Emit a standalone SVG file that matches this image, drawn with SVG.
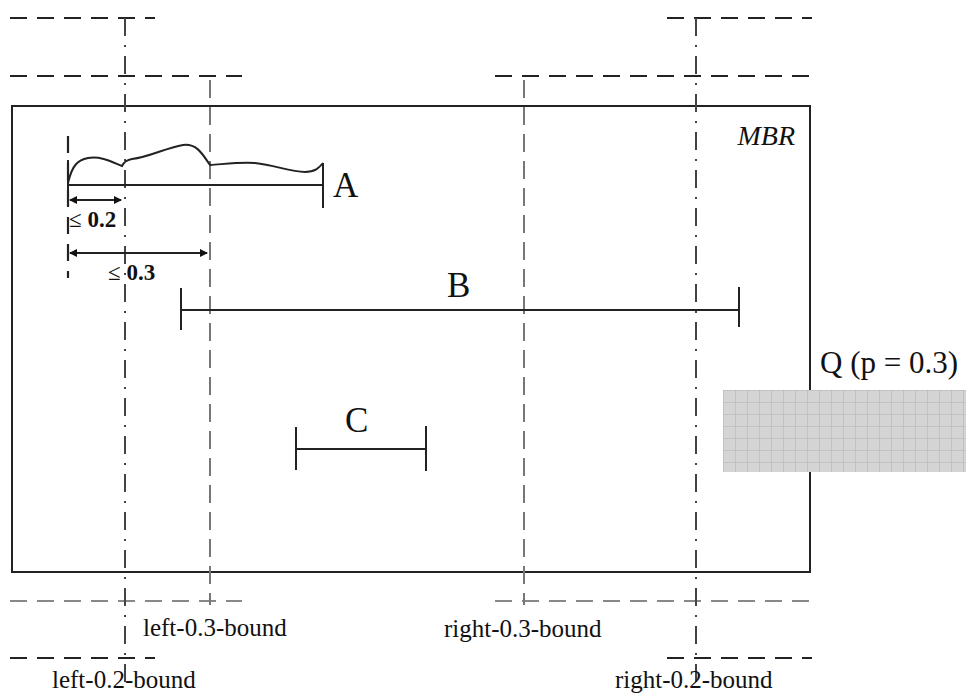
<svg xmlns="http://www.w3.org/2000/svg" width="966" height="695" viewBox="0 0 966 695">
<style>
.ser{font-family:"Liberation Serif","DejaVu Serif",serif;fill:#111}
.dash{stroke:#222;stroke-width:2.2;stroke-dasharray:17 10;fill:none}
.dashg{stroke:#888;stroke-width:2.2;stroke-dasharray:17 10;fill:none}
.dd{stroke:#444;stroke-width:2;stroke-dasharray:18 9 2 9;fill:none}
.vd{stroke:#777;stroke-width:2;stroke-dasharray:18 9;fill:none}
.seg{stroke:#222;stroke-width:2;fill:none}
.lbl{font-size:25px}
.big{font-size:35px}
.le{font-size:23px}
</style>
<defs>
<pattern id="grid" width="12" height="12" patternUnits="userSpaceOnUse" x="723" y="390">
<rect width="12" height="12" fill="#d4d4d4"/>
<path d="M0 0H12M0 0V12" stroke="#b0b0b0" stroke-width="1"/>
</pattern>
<marker id="ar" markerWidth="8" markerHeight="8" refX="7" refY="4" orient="auto-start-reverse" markerUnits="userSpaceOnUse">
<path d="M0 0L8 4L0 8Z" fill="#111"/>
</marker>
</defs>
<rect width="966" height="695" fill="#fff"/>
<g id="MBR">
<rect x="12" y="106" width="798" height="466" fill="none" stroke="#222" stroke-width="2"/>
<text x="795" y="145" class="ser" font-size="28" font-style="italic" text-anchor="end">MBR</text>
</g>
<g id="Q">
<rect x="723" y="390" width="243" height="82" fill="url(#grid)"/>
<text x="820" y="373" class="ser" font-size="31">Q (p = 0.3)</text>
</g>
<g id="bounds">
<path class="dash" d="M10 18H155M667 18H812"/>
<path class="dash" d="M10 76H242M495 76H812"/>
<path class="dashg" d="M10 601H242M495 601H812"/>
<path class="dash" d="M10 658H155M667 658H812"/>
<path class="dd" d="M125 18V690"/>
<path class="dd" d="M696 18V690"/>
<path class="vd" d="M210 80V605"/>
<path class="vd" d="M524 80V605"/>
<path class="dash" d="M68 136V278"/>
<text x="143" y="636" class="ser lbl">left-0.3-bound</text>
<text x="52" y="688" class="ser lbl">left-0.2-bound</text>
<text x="444" y="637" class="ser lbl">right-0.3-bound</text>
<text x="615" y="688" class="ser lbl">right-0.2-bound</text>
</g>
<g id="A">
<path class="seg" d="M68 185H323M68 160V192M323 163V208"/>
<path class="seg" stroke-width="1.8" d="M68 183C72 165 78 160 88 158C102 156 112 162 122 166C124 162 126 160 132 159C150 157 165 148 183 145C197 143 203 155 210 165C225 164 240 162 255 163C275 165 290 172 305 172C315 172 319 168 323 163"/>
<text x="333" y="197" class="ser big">A</text>
</g>
<g id="measures">
<path class="seg" d="M70 200H121" marker-start="url(#ar)" marker-end="url(#ar)"/>
<path class="seg" d="M70 253H207" marker-start="url(#ar)" marker-end="url(#ar)"/>
<text x="69" y="227" class="ser le">≤ <tspan font-weight="bold">0.2</tspan></text>
<text x="108" y="280" class="ser le">≤ <tspan font-weight="bold">0.3</tspan></text>
</g>
<g id="B">
<path class="seg" d="M181 310H739M181 288V330M739 287V327"/>
<text x="447" y="297" class="ser big">B</text>
</g>
<g id="C">
<path class="seg" d="M296 449H426M296 427V470M426 426V471"/>
<text x="345" y="432" class="ser big">C</text>
</g>
</svg>
